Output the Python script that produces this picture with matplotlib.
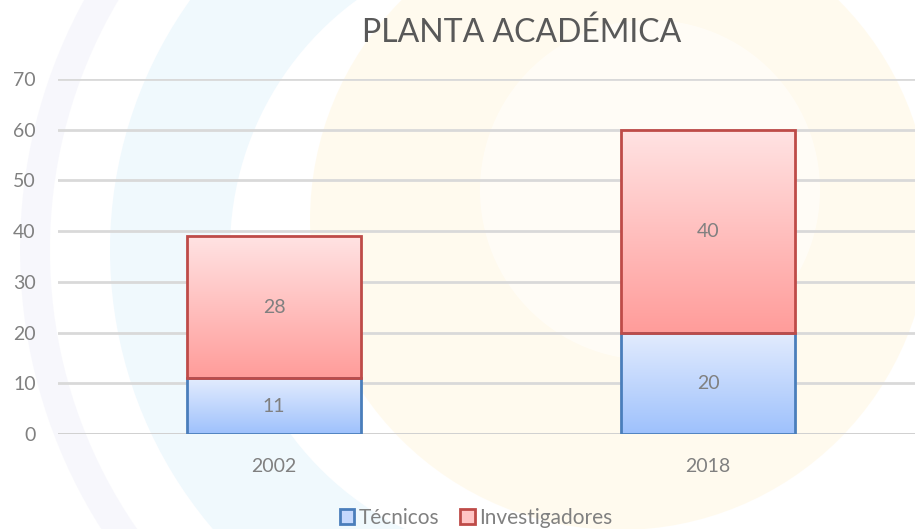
import numpy as np
import matplotlib

matplotlib.use("Agg")

import matplotlib.pyplot as plt  # noqa: E402
from matplotlib.colors import LinearSegmentedColormap  # noqa: E402
from matplotlib.patches import Patch, Wedge, Circle  # noqa: E402

years = ["2002", "2018"]
tecnicos = [11, 20]
investigadores = [28, 40]
series_names = ["Técnicos", "Investigadores"]
yticks = [0, 10, 20, 30, 40, 50, 60, 70]

plt.rcParams["font.family"] = ["Lato", "DejaVu Sans"]

W, H = 915, 529
fig = plt.figure(figsize=(W / 100, H / 100), dpi=100)
fig.patch.set_facecolor("white")

# faint watermark in the background
bg = fig.add_axes([0, 0, 1, 1], zorder=-10)
bg.set_xlim(0, W)
bg.set_ylim(H, 0)
bg.axis("off")
bg.add_patch(Circle((620, 220), 310, color="#fff8e4", alpha=0.6, lw=0))
bg.add_patch(Circle((650, 190), 170, color="white", alpha=0.5, lw=0))
bg.add_patch(Wedge((540, 250), 430, 115, 250, width=120, color="#e6f5fd", alpha=0.6, lw=0))
bg.add_patch(Wedge((540, 250), 520, 125, 235, width=30, color="#f3f3fb", alpha=0.6, lw=0))

ax = fig.add_axes([58 / W, 95 / H, 1 - 58 / W, 355 / H])
ax.patch.set_alpha(0)

grid_color = "#d9d9d9"
ax.set_yticks(yticks)
ax.grid(axis="y", color=grid_color, lw=2, zorder=0)
ax.set_axisbelow(True)
for s in ax.spines.values():
    s.set_visible(False)
ax.axhline(0, color="#d0d0d0", lw=2, zorder=1)

x = np.arange(len(years))
width = 0.40

blue_cm = LinearSegmentedColormap.from_list("b", ["#9ec1fc", "#e3ecfe"])
red_cm = LinearSegmentedColormap.from_list("r", ["#ff9c9a", "#ffe3e3"])
grad = np.linspace(0, 1, 256).reshape(-1, 1)


def gradient_bars(xs, heights, bottoms, cmap, edge):
    bars = ax.bar(xs, heights, width, bottom=bottoms, facecolor="none",
                  edgecolor=edge, lw=2, zorder=3)
    for b in bars:
        x0, y0 = b.get_x(), b.get_y()
        im = ax.imshow(grad, cmap=cmap, origin="lower", aspect="auto",
                       extent=[x0, x0 + b.get_width(), y0, y0 + b.get_height()],
                       zorder=2)
        im.set_clip_path(b)
    return bars


gradient_bars(x, tecnicos, 0, blue_cm, "#4a7ebb")
gradient_bars(x, investigadores, tecnicos, red_cm, "#be4b48")
ax.set_xlim(-0.498, 1.477)
ax.set_ylim(0, 70)

label_color = "#808080"
for i in range(len(years)):
    ax.text(x[i], tecnicos[i] / 2, str(tecnicos[i]), ha="center", va="center",
            fontsize=14, color=label_color, zorder=4)
    ax.text(x[i], tecnicos[i] + investigadores[i] / 2, str(investigadores[i]),
            ha="center", va="center", fontsize=14, color=label_color, zorder=4)

ax.set_xticks(x)
ax.set_xticklabels(years)
ax.tick_params(axis="x", length=0, pad=17, labelsize=14, labelcolor=label_color)
ax.tick_params(axis="y", length=0, pad=16, labelsize=14, labelcolor=label_color)

fig.text(522 / W, 1 - 33 / H, "PLANTA ACADÉMICA", ha="center", va="center",
         fontsize=23, color="#595959")

handles = [Patch(facecolor="#c4d8fd", edgecolor="#4a7ebb", lw=2),
           Patch(facecolor="#ffc4c4", edgecolor="#be4b48", lw=2)]
fig.legend(handles, series_names, loc="center", bbox_to_anchor=(476 / W, 1 - 518 / H),
           ncol=2, frameon=False, fontsize=15, labelcolor=label_color,
           handlelength=0.7, handleheight=0.7, handletextpad=0.2,
           columnspacing=1.0, borderaxespad=0)

fig.savefig("out.png", dpi=100)
